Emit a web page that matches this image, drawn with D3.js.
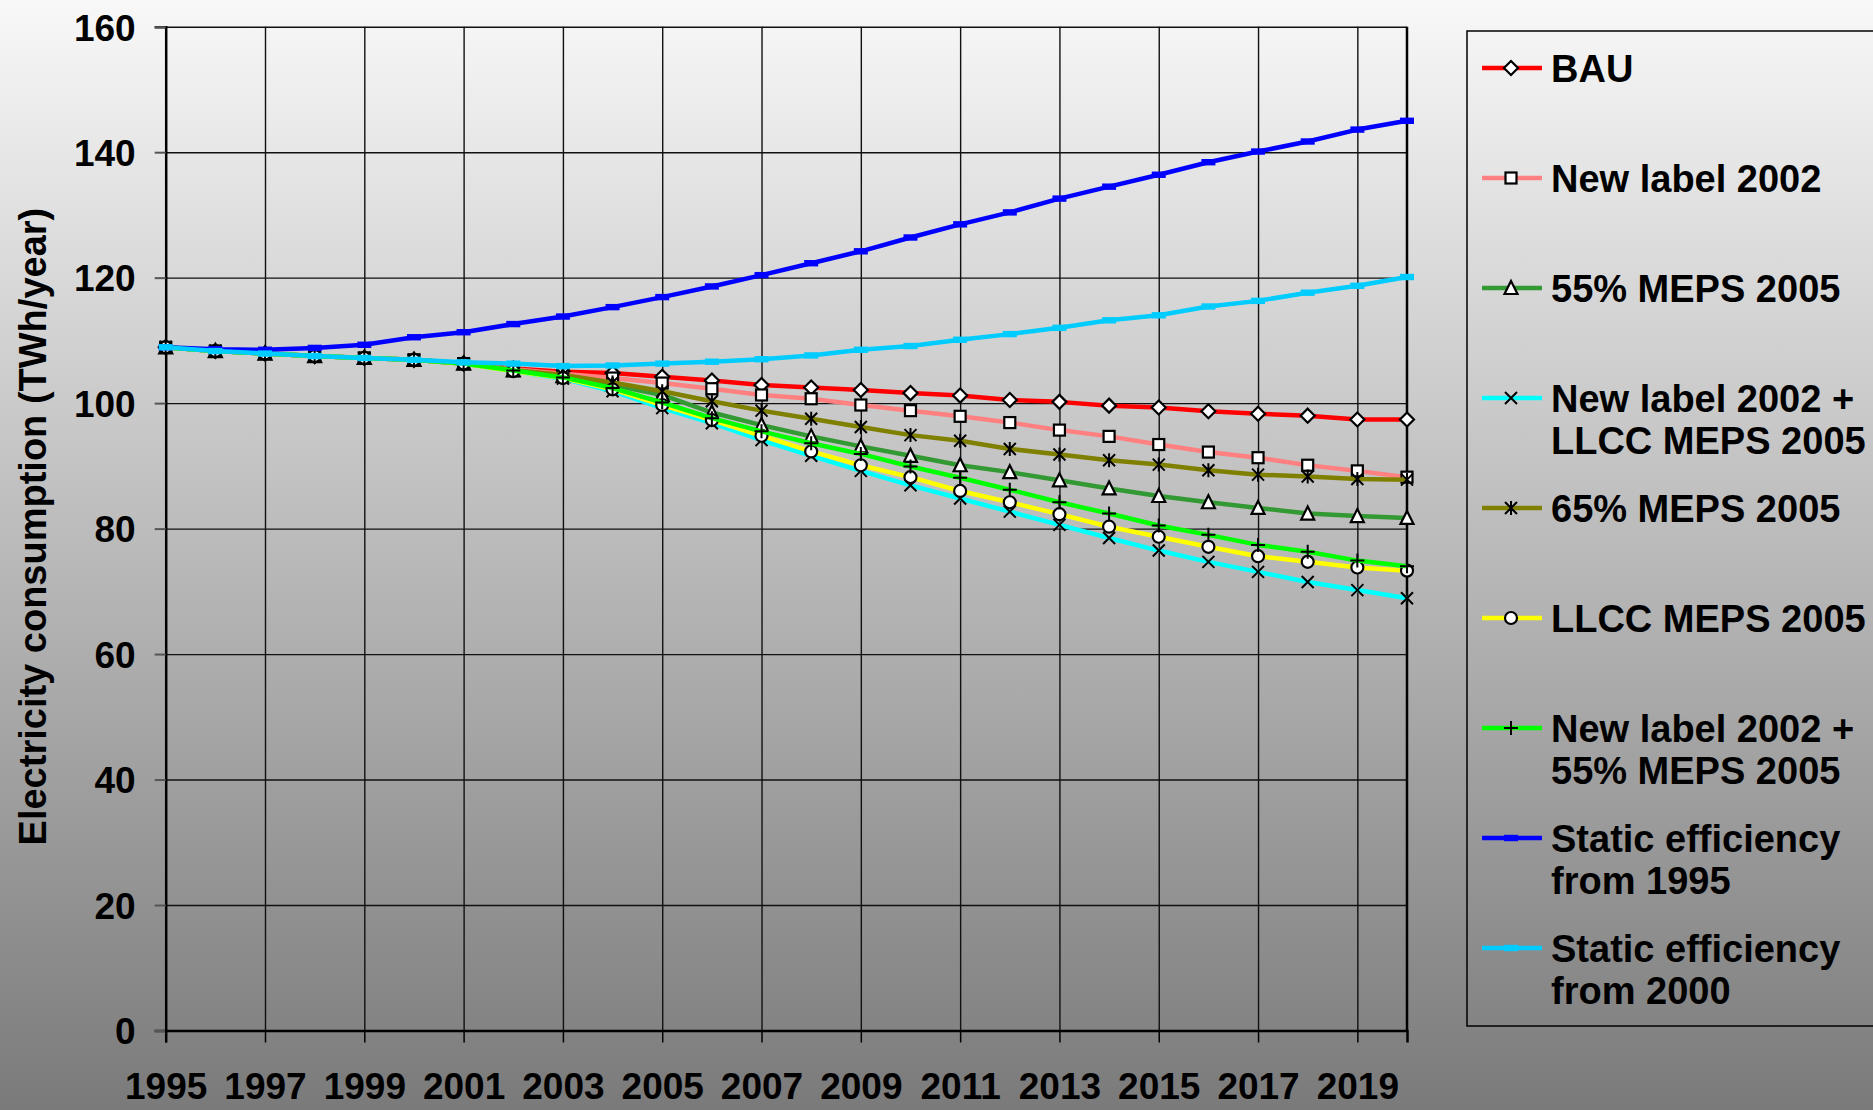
<!DOCTYPE html>
<html>
<head>
<meta charset="utf-8">
<script src="https://cdn.jsdelivr.net/npm/d3@7"></script>
<style>
  body { margin: 0; padding: 0; }
  text { font-family: "Liberation Sans", Arial, sans-serif; font-weight: bold; fill: #000; }
</style>
</head>
<body>
<script>
// values, TWh/year
var years = d3.range(1995, 2021);

var bau =        [108.9, 108.3, 107.9, 107.5, 107.2, 106.9, 106.3, 105.5, 105.0, 104.8, 104.2, 103.6, 102.9, 102.5, 102.1, 101.6, 101.2, 100.5, 100.2, 99.6, 99.3, 98.7, 98.3, 98.0, 97.4, 97.4];
var newLabel =   [108.9, 108.3, 107.9, 107.5, 107.2, 106.9, 106.3, 105.4, 104.7, 104.0, 103.2, 102.3, 101.3, 100.7, 99.7, 98.8, 97.9, 96.9, 95.7, 94.7, 93.4, 92.2, 91.3, 90.1, 89.2, 88.2];
var meps55 =     [108.9, 108.3, 107.9, 107.5, 107.2, 106.9, 106.3, 105.2, 104.3, 102.9, 101.3, 98.5, 96.5, 94.7, 93.1, 91.6, 90.1, 89.0, 87.7, 86.4, 85.2, 84.2, 83.3, 82.4, 82.0, 81.7];
var labelLlcc =  [108.9, 108.3, 107.9, 107.5, 107.2, 106.9, 106.3, 105.1, 103.9, 101.9, 99.2, 96.8, 94.1, 91.6, 89.2, 86.9, 84.8, 82.7, 80.6, 78.5, 76.5, 74.7, 73.1, 71.5, 70.2, 68.9];
var meps65 =     [108.9, 108.3, 107.9, 107.5, 107.2, 106.9, 106.3, 105.3, 104.5, 103.3, 101.9, 100.3, 98.8, 97.5, 96.2, 94.9, 94.0, 92.7, 91.8, 90.9, 90.2, 89.3, 88.6, 88.3, 87.9, 87.8];
var llcc =       [108.9, 108.3, 107.9, 107.5, 107.2, 106.9, 106.3, 105.1, 104.0, 102.2, 99.7, 97.3, 94.8, 92.3, 90.1, 88.2, 86.0, 84.2, 82.3, 80.3, 78.7, 77.1, 75.6, 74.7, 73.8, 73.3];
var label55 =    [108.9, 108.3, 107.9, 107.5, 107.2, 106.9, 106.3, 105.2, 104.1, 102.4, 100.1, 97.6, 95.5, 93.6, 91.9, 89.9, 88.1, 86.2, 84.2, 82.4, 80.5, 79.0, 77.4, 76.3, 74.9, 74.0];
var static1995 = [108.9, 108.6, 108.5, 108.8, 109.3, 110.5, 111.3, 112.6, 113.8, 115.3, 116.9, 118.6, 120.4, 122.3, 124.2, 126.4, 128.5, 130.4, 132.6, 134.5, 136.4, 138.4, 140.1, 141.7, 143.6, 145.0];
var static2000 = [108.9, 108.3, 107.9, 107.5, 107.2, 106.9, 106.5, 106.3, 105.9, 106.0, 106.3, 106.6, 107.0, 107.6, 108.5, 109.1, 110.1, 111.0, 112.0, 113.2, 114.0, 115.4, 116.3, 117.6, 118.7, 120.1];

var seriesNames = ["BAU", "New label 2002", "55% MEPS 2005", "New label 2002 +\nLLCC MEPS 2005", "65% MEPS 2005",
                   "LLCC MEPS 2005", "New label 2002 +\n55% MEPS 2005", "Static efficiency\nfrom 1995", "Static efficiency\nfrom 2000"];
var seriesValues = [bau, newLabel, meps55, labelLlcc, meps65, llcc, label55, static1995, static2000];
var seriesColors = ["#ff0000", "#ff8080", "#339933", "#00ffff", "#808000", "#ffff00", "#00ff00", "#0000ff", "#00ccff"];
var seriesMarkers = ["diamond", "square", "triangle", "x", "star", "circle", "plus", "dash", "dash"];

var yTicks = [0, 20, 40, 60, 80, 100, 120, 140, 160];
var xTicks = d3.range(1995, 2020, 2);

var width = 1873, height = 1110;
var plotLeft = 165.7, plotRight = 1407, plotTop = 26.7, plotBottom = 1030.5;

var svg = d3.select("body").append("svg")
    .attr("width", width)
    .attr("height", height);

var grad = svg.append("defs").append("linearGradient")
    .attr("id", "bg").attr("x1", 0).attr("y1", 0).attr("x2", 0).attr("y2", 1);
grad.append("stop").attr("offset", "0%").attr("stop-color", "#f8f8f8");
grad.append("stop").attr("offset", "100%").attr("stop-color", "#7a7a7a");

svg.append("rect").attr("width", width).attr("height", height).attr("fill", "url(#bg)");

var x = d3.scaleLinear().domain([1995, 2020]).range([plotLeft, plotRight]);
var y = d3.scaleLinear().domain([0, 160]).range([plotBottom, plotTop]);

// grid
svg.append("g")
    .attr("transform", "translate(" + plotLeft + ",0)")
    .call(d3.axisLeft(y).tickValues(yTicks).tickSize(-(plotRight - plotLeft)).tickFormat(""))
    .call(function(g) {
      g.select(".domain").remove();
      g.selectAll("line").attr("stroke", "#111").attr("stroke-width", 1.4);
    });

svg.append("g")
    .attr("transform", "translate(0," + plotBottom + ")")
    .call(d3.axisBottom(x).tickValues(xTicks).tickSize(-(plotBottom - plotTop)).tickFormat(""))
    .call(function(g) {
      g.select(".domain").remove();
      g.selectAll("line").attr("stroke", "#111").attr("stroke-width", 1.4);
    });

// y axis
svg.append("g")
    .attr("transform", "translate(" + plotLeft + ",0)")
    .call(d3.axisLeft(y).tickValues(yTicks).tickSize(11).tickPadding(30))
    .call(function(g) {
      g.select(".domain").attr("stroke", "#000").attr("stroke-width", 2.5);
      g.selectAll(".tick line").attr("stroke", "#555").attr("stroke-width", 2);
      g.selectAll(".tick text")
          .attr("x", -30).attr("dy", "0.36em")
          .style("font-size", "37px").style("font-family", "Liberation Sans, Arial").style("font-weight", "bold");
    });

// x axis
svg.append("g")
    .attr("transform", "translate(0," + plotBottom + ")")
    .call(d3.axisBottom(x).tickValues(xTicks).tickSize(12).tickFormat(d3.format("d")))
    .call(function(g) {
      g.select(".domain").attr("stroke", "#000").attr("stroke-width", 2.5);
      g.selectAll(".tick line").attr("stroke", "#000").attr("stroke-width", 1.5);
      g.selectAll(".tick text")
          .attr("y", 55).attr("dy", "0.36em")
          .style("font-size", "37px").style("font-family", "Liberation Sans, Arial").style("font-weight", "bold");
    });

// right border of plot
svg.append("line")
    .attr("x1", plotRight).attr("x2", plotRight).attr("y1", plotTop).attr("y2", plotBottom)
    .attr("stroke", "#000").attr("stroke-width", 2.5);

svg.append("text")
    .attr("transform", "translate(32," + ((plotTop + plotBottom) / 2 - 2) + ") rotate(-90)")
    .attr("text-anchor", "middle")
    .attr("dy", "0.36em")
    .style("font-size", "38px")
    .text("Electricity consumption (TWh/year)");

function drawMarker(g, type, color) {
  var sw = 2.2;
  if (type == "diamond") {
    g.append("path").attr("d", "M0,-7L7,0L0,7L-7,0Z").attr("fill", "#fff").attr("stroke", "#000").attr("stroke-width", sw);
  } else if (type == "square") {
    g.append("rect").attr("x", -5.5).attr("y", -5.5).attr("width", 11).attr("height", 11)
        .attr("fill", "#fff").attr("stroke", "#000").attr("stroke-width", sw);
  } else if (type == "triangle") {
    g.append("path").attr("d", "M0,-7L6.5,6L-6.5,6Z").attr("fill", "#fff").attr("stroke", "#000").attr("stroke-width", sw);
  } else if (type == "circle") {
    g.append("circle").attr("r", 6).attr("fill", "#fff").attr("stroke", "#000").attr("stroke-width", sw);
  } else if (type == "x") {
    g.append("path").attr("d", "M-6,-6L6,6M-6,6L6,-6").attr("stroke", "#000").attr("stroke-width", 2);
  } else if (type == "star") {
    g.append("path").attr("d", "M-6,-6L6,6M-6,6L6,-6M0,-7L0,7").attr("stroke", "#000").attr("stroke-width", 2);
  } else if (type == "plus") {
    g.append("path").attr("d", "M-7,0L7,0M0,-7L0,7").attr("stroke", "#000").attr("stroke-width", 2);
  } else if (type == "dash") {
    g.append("rect").attr("x", -7).attr("y", -3.2).attr("width", 14).attr("height", 6.4).attr("fill", color);
  }
}

var line = d3.line()
    .x(function(d, i) { return x(years[i]); })
    .y(function(d) { return y(d); });

seriesValues.forEach(function(vals, k) {
  var g = svg.append("g");
  g.append("path")
      .attr("d", line(vals))
      .attr("fill", "none")
      .attr("stroke", seriesColors[k])
      .attr("stroke-width", 4.5)
      .attr("stroke-linejoin", "round");
  vals.forEach(function(v, i) {
    var m = g.append("g").attr("transform", "translate(" + x(years[i]) + "," + y(v) + ")");
    drawMarker(m, seriesMarkers[k], seriesColors[k]);
  });
});

// legend
var legend = svg.append("g");
legend.append("rect")
    .attr("x", 1467).attr("y", 31).attr("width", 420).attr("height", 995)
    .attr("fill", "none").attr("stroke", "#000").attr("stroke-width", 1.5);

seriesNames.forEach(function(name, k) {
  var ly = 68 + k * 110;
  var row = legend.append("g").attr("transform", "translate(0," + ly + ")");
  row.append("line").attr("x1", 1482).attr("x2", 1542).attr("y1", 0).attr("y2", 0)
      .attr("stroke", seriesColors[k]).attr("stroke-width", 4.5);
  var m = row.append("g").attr("transform", "translate(1511,0)");
  drawMarker(m, seriesMarkers[k], seriesColors[k]);
  name.split("\n").forEach(function(t, j) {
    row.append("text")
        .attr("x", 1551).attr("y", j * 42).attr("dy", "0.36em")
        .style("font-size", "38px")
        .text(t);
  });
});
</script>
</body>
</html>
